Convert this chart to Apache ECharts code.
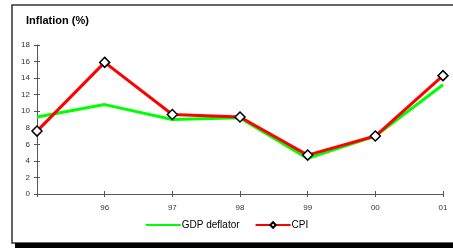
<!DOCTYPE html>
<html>
<head>
<meta charset="utf-8">
<script src="https://cdn.jsdelivr.net/npm/echarts@6/dist/echarts.min.js"></script>
<style>
  html, body { margin: 0; padding: 0; background: #fff; }
  #chart { width: 453px; height: 248px; }
</style>
</head>
<body>
<div id="chart"></div>
<script>
// data
const years = ['95', '96', '97', '98', '99', '00', '01'];
const gdpDeflator = [9.3, 10.8, 9.0, 9.2, 4.3, 7.0, 13.2];
const cpi = [7.6, 15.9, 9.6, 9.3, 4.7, 7.0, 14.3];
const yMin = 0, yMax = 18, yStep = 2;

var myChart = echarts.init(document.getElementById('chart'), null, { renderer: 'canvas' });

const font = 'Arial, "Liberation Sans", sans-serif';
const axisColor = '#555';

var xBase = {
    type: 'category',
    data: years,
    boundaryGap: false,
    axisLine: { lineStyle: { color: axisColor, width: 1 } },
    splitLine: { show: false }
};

var yBase = {
    type: 'value',
    min: yMin,
    max: yMax,
    interval: yStep,
    axisLine: { show: true, lineStyle: { color: axisColor, width: 1 } },
    splitLine: { show: false }
};

var option = {
    animation: false,
    backgroundColor: '#fff',
    title: {
        text: 'Inflation (%)',
        left: 21,
        top: 10,
        textStyle: { fontFamily: font, fontSize: 11, fontWeight: 'bold', color: '#000' }
    },
    grid: { left: 37, right: 10, top: 45, bottom: 54, containLabel: false },
    xAxis: [
        Object.assign({}, xBase, {
            axisTick: { show: true, inside: false, length: 3, lineStyle: { color: axisColor } },
            axisLabel: {
                margin: 10, fontFamily: font, fontSize: 8, color: '#333',
                formatter: function (v, i) { return i === 0 ? '' : v; }
            }
        }),
        Object.assign({}, xBase, {
            position: 'bottom',
            axisTick: { show: true, inside: true, length: 3, lineStyle: { color: axisColor } },
            axisLabel: { show: false }
        })
    ],
    yAxis: [
        Object.assign({}, yBase, {
            axisTick: { show: true, inside: false, length: 3, lineStyle: { color: axisColor } },
            axisLabel: { margin: 7, fontFamily: font, fontSize: 8, color: '#333' }
        }),
        Object.assign({}, yBase, {
            position: 'left',
            axisTick: { show: true, inside: true, length: 3, lineStyle: { color: axisColor } },
            axisLabel: { show: false }
        })
    ],
    legend: {
        bottom: 13,
        left: 'center',
        itemWidth: 35,
        itemHeight: 7,
        itemGap: 15,
        textStyle: { fontFamily: font, fontSize: 10, color: '#000', padding: [0, 0, 0, -4] },
        data: [
            { name: 'GDP deflator', itemStyle: { opacity: 0 } },
            { name: 'CPI' }
        ]
    },
    graphic: [
        {
            type: 'rect',
            shape: { x: 12, y: 5, width: 460, height: 238 },
            style: { fill: 'none', stroke: '#333', lineWidth: 1.5 },
            silent: true
        },
        {
            type: 'rect',
            shape: { x: 15, y: 243, width: 460, height: 6 },
            style: { fill: '#000' },
            silent: true
        }
    ],
    series: [
        {
            name: 'GDP deflator',
            type: 'line',
            data: gdpDeflator,
            symbol: 'none',
            lineStyle: { color: '#00ff00', width: 3 },
            itemStyle: { color: '#00ff00' },
            z: 2
        },
        {
            name: 'CPI',
            type: 'line',
            data: cpi,
            symbol: 'diamond',
            symbolSize: 10,
            showAllSymbol: true,
            lineStyle: { color: '#ff0000', width: 3 },
            itemStyle: { color: '#fff', borderColor: '#000', borderWidth: 1.5 },
            z: 3
        }
    ]
};
myChart.setOption(option);
</script>
</body>
</html>
